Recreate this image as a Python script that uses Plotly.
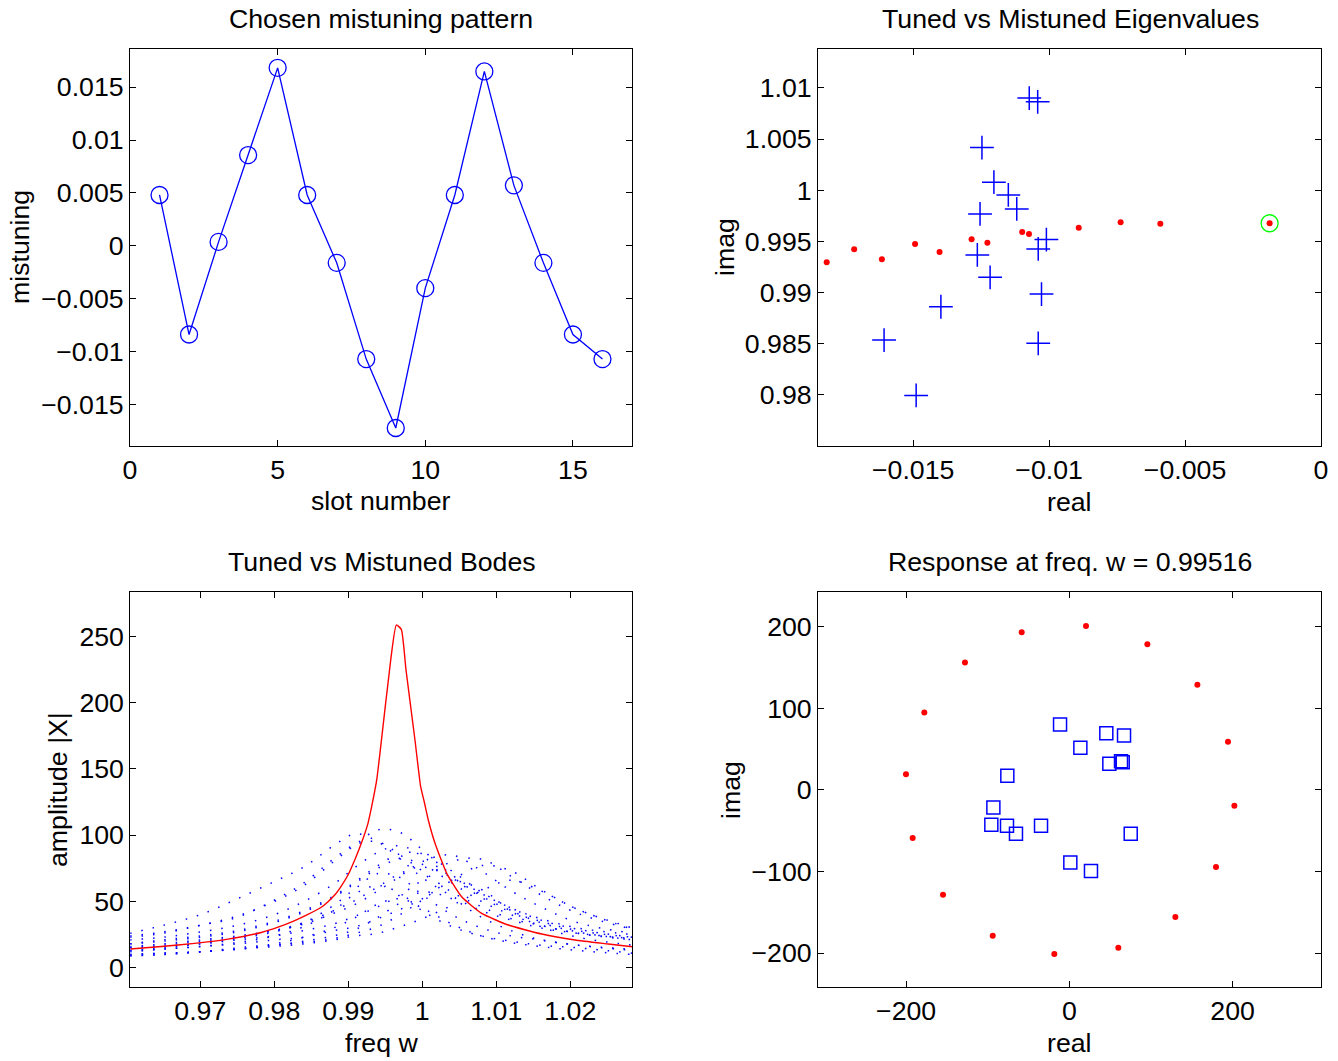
import plotly.graph_objects as go

W, H = 1338, 1061
FONT = "Liberation Sans, Arial, Helvetica, sans-serif"
FS = 26.7

# ---------------- Top-left: mistuning pattern ----------------
slot_number = list(range(1, 17))
mistuning = [0.00481, -0.00837, 0.00038, 0.00858, 0.01682, 0.00481, -0.0016, -0.01069,
             -0.0172, -0.00399, 0.00481, 0.01648, 0.00572, -0.0016, -0.00837, -0.01069]
tl_xticks = [0, 5, 10, 15]
tl_xtext = ["0", "5", "10", "15"]
tl_yticks = [-0.015, -0.01, -0.005, 0, 0.005, 0.01, 0.015]
tl_ytext = ["\u22120.015", "\u22120.01", "\u22120.005", "0", "0.005", "0.01", "0.015"]

# ---------------- Top-right: eigenvalues ----------------
tuned_eig_real = [-0.01818, -0.01717, -0.01615, -0.01493, -0.01403, -0.01285, -0.01227,
                  -0.01099, -0.01074, -0.00891, -0.00737, -0.00591, -0.00189]
tuned_eig_imag = [0.99296, 0.99423, 0.99325, 0.99475, 0.99396, 0.99521, 0.99487,
                  0.99592, 0.99572, 0.99634, 0.99687, 0.99673, 0.99677]
mistuned_eig_real = [-0.01073, -0.01042, -0.01247, -0.01203, -0.0115, -0.01119, -0.01254, -0.0101,
                     -0.0104, -0.01264, -0.01217, -0.01028, -0.01398, -0.01607, -0.0104, -0.01489]
mistuned_eig_imag = [1.00900, 1.00864, 1.00417, 1.00078, 0.99954, 0.99817, 0.99768, 0.99517,
                     0.99426, 0.99367, 0.99149, 0.98985, 0.98861, 0.98535, 0.98503, 0.97994]
chosen_eig_real = [-0.00189]
chosen_eig_imag = [0.99677]
tr_xticks = [-0.015, -0.01, -0.005, 0]
tr_xtext = ["\u22120.015", "\u22120.01", "\u22120.005", "0"]
tr_yticks = [0.98, 0.985, 0.99, 0.995, 1.0, 1.005, 1.01]
tr_ytext = ["0.98", "0.985", "0.99", "0.995", "1", "1.005", "1.01"]

# ---------------- Bottom-left: Bode amplitudes ----------------
tuned_freq = [0.96054, 0.96473, 0.96924, 0.97374, 0.97824, 0.98050, 0.98276, 0.98455, 0.98635,
              0.98726, 0.98816, 0.98905, 0.98996, 0.99087, 0.99176, 0.99266, 0.99334, 0.99384,
              0.99438, 0.99573, 0.99649, 0.99716, 0.99780, 0.99901, 0.99978, 1.00027, 1.00081,
              1.00172, 1.00330, 1.00532, 1.00803, 1.01162, 1.01614, 1.02063, 1.02513, 1.02838]
tuned_amp = [14.1, 16.0, 18.4, 21.6, 26.6, 30.6, 35.6, 40.2, 45.6, 49.8, 54.8, 61.6, 69.9, 81.2,
             93.8, 108.9, 126.5, 141.6, 166.7, 232.0, 258.4, 255.2, 224.5, 171.7, 136.5, 125.0,
             111.4, 93.8, 71.2, 53.5, 41.0, 32.2, 25.4, 20.9, 17.9, 15.8]

bode_freq = [0.9605, 0.965, 0.970, 0.975, 0.980, 0.984, 0.988, 0.991, 0.994, 0.997, 1.000,
             1.004, 1.008, 1.012, 1.016, 1.021, 1.0284]
blade_01 = [24, 27, 32, 39, 50, 62, 80, 93, 104, 102, 89, 70, 56, 45, 37, 30, 25]
blade_02 = [26, 32, 40, 52, 65, 76, 92, 101, 95, 82, 68, 54, 43, 36, 30, 26, 22]
blade_03 = [23, 26, 32, 38, 51, 64, 82, 93, 95, 85, 73, 57, 46, 37, 32, 26, 22]
blade_04 = [21, 23, 27, 32, 40, 50, 63, 76, 87, 92, 84, 68, 53, 42, 35, 28, 23]
blade_05 = [18, 21, 24, 28, 35, 43, 54, 65, 77, 86, 86, 73, 57, 45, 36, 29, 23]
blade_06 = [16, 18, 21, 24, 28, 33, 41, 48, 58, 69, 80, 85, 73, 58, 46, 34, 26]
blade_07 = [15, 16, 18, 21, 24, 28, 33, 39, 46, 55, 66, 80, 82, 69, 55, 41, 29]
blade_08 = [13, 14, 16, 18, 21, 23, 28, 31, 37, 44, 52, 66, 77, 73, 59, 44, 30]
blade_09 = [15, 17, 20, 23, 28, 34, 43, 51, 61, 71, 76, 68, 54, 43, 34, 27, 21]
blade_10 = [13, 15, 18, 22, 27, 34, 47, 60, 71, 68, 55, 40, 30, 24, 21, 17, 14]
blade_11 = [10, 11, 12, 14, 17, 19, 22, 26, 31, 40, 51, 65, 59, 43, 31, 23, 17]
blade_12 = [12, 14, 16, 19, 24, 31, 43, 56, 62, 56, 43, 31, 24, 20, 17, 15, 11]
blade_13 = [9, 10, 12, 14, 17, 20, 24, 29, 38, 49, 57, 52, 38, 28, 21, 17, 13]
blade_14 = [9, 10, 12, 15, 18, 23, 30, 38, 48, 52, 45, 33, 24, 19, 16, 13, 10]
blade_15 = [10, 11, 12, 14, 16, 18, 21, 24, 26, 31, 37, 47, 58, 66, 58, 44, 29]
blade_16 = [18, 20, 23, 27, 34, 42, 53, 64, 75, 82, 78, 64, 50, 40, 32, 26, 21]
bl_xticks = [0.97, 0.98, 0.99, 1.0, 1.01, 1.02]
bl_xtext = ["0.97", "0.98", "0.99", "1", "1.01", "1.02"]
bl_yticks = [0, 50, 100, 150, 200, 250]
bl_ytext = ["0", "50", "100", "150", "200", "250"]

# ---------------- Bottom-right: response at frequency ----------------
tuned_resp_real = [20.4, -58.4, 95.6, -127.9, 156.9, -177.7, 194.4, -200.2, 202.2, -192.0,
                   179.7, -154.8, 129.9, -93.9, 60.0, -18.4]
tuned_resp_imag = [200.8, 193.0, 178.4, 155.9, 128.6, 94.7, 58.8, 19.2, -19.6, -59.2,
                   -94.7, -128.6, -155.9, -178.8, -193.5, -201.2]
mistuned_resp_real = [-11.4, 45.3, 67.0, 13.5, 49.0, 63.3, 65.4, -76.0, -93.1, -95.6,
                      -76.4, -65.4, -34.7, 75.2, 1.2, 26.5]
mistuned_resp_imag = [80.0, 69.4, 66.5, 51.4, 31.8, 35.1, 33.9, 17.1, -21.6, -42.9,
                      -44.1, -53.9, -44.1, -53.9, -89.0, -99.6]
br_xticks = [-200, 0, 200]
br_xtext = ["\u2212200", "0", "200"]
br_yticks = [-200, -100, 0, 100, 200]
br_ytext = ["\u2212200", "\u2212100", "0", "100", "200"]

BLUE = "rgb(0,0,255)"
RED = "rgb(255,0,0)"
GREEN = "rgb(0,255,0)"

fig = go.Figure()

# top-left
fig.add_trace(go.Scatter(x=slot_number, y=mistuning, mode="lines+markers",
                         line=dict(color=BLUE, width=1.3),
                         marker=dict(symbol="circle-open", size=17, color=BLUE, line=dict(width=1.3, color=BLUE)),
                         xaxis="x", yaxis="y", showlegend=False))

# top-right
fig.add_trace(go.Scatter(x=tuned_eig_real, y=tuned_eig_imag, mode="markers",
                         marker=dict(symbol="circle", size=6, color=RED),
                         xaxis="x2", yaxis="y2", showlegend=False))
fig.add_trace(go.Scatter(x=mistuned_eig_real, y=mistuned_eig_imag, mode="markers",
                         marker=dict(symbol="cross-thin", size=17, color=BLUE, line=dict(width=1.5, color=BLUE)),
                         xaxis="x2", yaxis="y2", showlegend=False))
fig.add_trace(go.Scatter(x=chosen_eig_real, y=chosen_eig_imag, mode="markers",
                         marker=dict(symbol="circle-open", size=17, color=GREEN, line=dict(width=1.3, color=GREEN)),
                         xaxis="x2", yaxis="y2", showlegend=False))

# bottom-left
blades = [blade_01, blade_02, blade_03, blade_04, blade_05, blade_06, blade_07, blade_08,
          blade_09, blade_10, blade_11, blade_12, blade_13, blade_14, blade_15, blade_16]
for amp in blades:
    fig.add_trace(go.Scatter(x=bode_freq, y=amp, mode="lines",
                             line=dict(color=BLUE, width=1.5, dash="1.5px,10px", shape="spline", smoothing=1.0),
                             xaxis="x3", yaxis="y3", showlegend=False))
fig.add_trace(go.Scatter(x=tuned_freq, y=tuned_amp, mode="lines",
                         line=dict(color=RED, width=1.4, shape="spline", smoothing=0.5),
                         xaxis="x3", yaxis="y3", showlegend=False))

# bottom-right
fig.add_trace(go.Scatter(x=tuned_resp_real, y=tuned_resp_imag, mode="markers",
                         marker=dict(symbol="circle", size=6, color=RED),
                         xaxis="x4", yaxis="y4", showlegend=False))
fig.add_trace(go.Scatter(x=mistuned_resp_real, y=mistuned_resp_imag, mode="markers",
                         marker=dict(symbol="square-open", size=13, color=BLUE, line=dict(width=1.5, color=BLUE)),
                         xaxis="x4", yaxis="y4", showlegend=False))


def ax(domain, rng, tv, tt, anchor):
    return dict(domain=domain, range=rng, tickvals=tv, ticktext=tt, anchor=anchor,
                showline=True, linecolor="black", linewidth=1, mirror="allticks",
                ticks="inside", ticklen=6, tickwidth=1, tickcolor="black",
                showgrid=False, zeroline=False, automargin=False,
                tickfont=dict(family=FONT, size=FS, color="black"))


def px(x):
    return x / W


def py(y):
    return 1 - y / H


fig.update_layout(
    width=W, height=H,
    margin=dict(l=0, r=0, t=0, b=0),
    paper_bgcolor="white", plot_bgcolor="white",
    template="none",
    showlegend=False,
    xaxis=ax([px(130), px(632)], [0, 17], tl_xticks, tl_xtext, "y"),
    yaxis=ax([py(446), py(49)], [-0.0189, 0.0186], tl_yticks, tl_ytext, "x"),
    xaxis2=ax([px(818), px(1321)], [-0.0185, 0], tr_xticks, tr_xtext, "y2"),
    yaxis2=ax([py(446), py(49)], [0.975, 1.0138], tr_yticks, tr_ytext, "x2"),
    xaxis3=ax([px(130.3), px(632.3)], [0.96054, 1.02838], bl_xticks, bl_xtext, "y3"),
    yaxis3=ax([py(986.7), py(592.3)], [-14.3, 283.1], bl_yticks, bl_ytext, "x3"),
    xaxis4=ax([px(818), px(1320.7)], [-308, 308], br_xticks, br_xtext, "y4"),
    yaxis4=ax([py(987.3), py(592.3)], [-242, 242], br_yticks, br_ytext, "x4"),
)

texts = [
    ("Chosen mistuning pattern", 381, 19, 0),
    ("Tuned vs Mistuned Eigenvalues", 1070, 19, 0),
    ("Tuned vs Mistuned Bodes", 382, 562, 0),
    ("Response at freq. w = 0.99516", 1070, 562, 0),
    ("slot number", 381, 501, 0),
    ("real", 1069, 502, 0),
    ("freq w", 381, 1043, 0),
    ("real", 1069, 1043, 0),
    ("mistuning", 20, 247, -90),
    ("imag", 725, 247, -90),
    ("amplitude |X|", 58, 790, -90),
    ("imag", 731, 790, -90),
]
for t, x, y, ang in texts:
    fig.add_annotation(text=t, x=px(x), y=py(y), xref="paper", yref="paper",
                       xanchor="center", yanchor="middle", showarrow=False, textangle=ang,
                       font=dict(family=FONT, size=FS, color="black"))

fig.write_html("out.html", config={"displayModeBar": False},
               post_script="document.body.style.margin='0px';document.body.style.overflow='hidden';")
